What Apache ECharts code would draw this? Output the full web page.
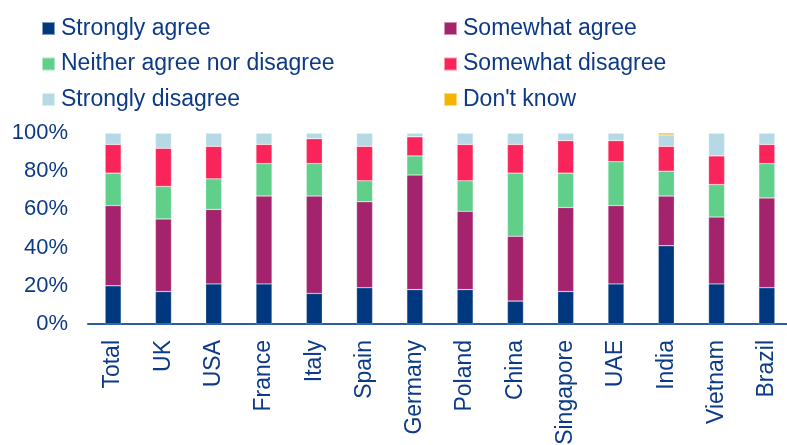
<!DOCTYPE html>
<html><head><meta charset="utf-8">
<script src="https://cdn.jsdelivr.net/npm/echarts@6/dist/echarts.min.js"></script>
<style>html,body{margin:0;padding:0;background:#fff}#c{width:787px;height:445px}</style>
</head><body><div id="c"></div>
<script>
const categories = ['Total','UK','USA','France','Italy','Spain','Germany','Poland','China','Singapore','UAE','India','Vietnam','Brazil'];
const stronglyAgree    = [20,17,21,21,16,19,18,18,12,17,21,41,21,19];
const somewhatAgree    = [42,38,39,46,51,45,60,41,34,44,41,26,35,47];
const neither          = [17,17,16,17,17,11,10,16,33,18,23,13,17,18];
const somewhatDisagree = [15,20,17,10,13,18,10,19,15,17,11,13,15,10];
const stronglyDisagree = [6,8,7,6,3,7,2,6,6,4,4,6,12,6];
const dontKnow         = [0,0,0,0,0,0,0,0,0,0,0,1,0,0];
const yTicks = [0,20,40,60,80,100];

const seriesDefs = [
  ['Strongly agree', stronglyAgree, '#00387f'],
  ['Somewhat agree', somewhatAgree, '#a3246c'],
  ['Neither agree nor disagree', neither, '#5fcf8a'],
  ['Somewhat disagree', somewhatDisagree, '#f9245a'],
  ['Strongly disagree', stronglyDisagree, '#b5dae6'],
  ["Don't know", dontKnow, '#f5b400']
];
const txt = '#0d3a86';
const font = '"Liberation Sans",Arial,sans-serif';
const legendText = {color: txt, fontSize: 23, fontFamily: font, padding: [0,0,0,1]};
const chart = echarts.init(document.getElementById('c'));
chart.setOption({
  animation: false,
  legend: [
    {data: ['Strongly agree','Neither agree nor disagree','Strongly disagree'], orient: 'vertical', left: 41, top: 17, padding: 0, itemGap: 12.5, itemWidth: 13, itemHeight: 13, textStyle: legendText, icon: 'rect'},
    {data: ['Somewhat agree','Somewhat disagree',"Don't know"], orient: 'vertical', left: 443, top: 17, padding: 0, itemGap: 12.5, itemWidth: 13, itemHeight: 13, textStyle: legendText, icon: 'rect'}
  ],
  grid: {left: 88, width: 704, top: 133, height: 191, containLabel: false, outerBoundsMode: 'none'},
  xAxis: {
    type: 'category', data: categories,
    axisLine: {lineStyle: {color: '#2e5c9e', width: 2}},
    axisTick: {show: false},
    axisLabel: {rotate: 90, color: txt, fontSize: 23, fontFamily: font, margin: 16, interval: 0}
  },
  yAxis: {
    type: 'value', min: 0, max: 100, interval: 20,
    axisLine: {show: false}, axisTick: {show: false}, splitLine: {show: false},
    axisLabel: {color: txt, fontSize: 22, fontFamily: font, margin: 20,
      formatter: v => yTicks.includes(v) ? v + '%' : ''}
  },
  series: seriesDefs.map(([name, data, color]) => ({
    name, type: 'bar', stack: 'a', data, barWidth: 16,
    itemStyle: {color, borderColor: 'rgba(255,255,255,0.5)', borderWidth: 0.5}
  }))
});
</script></body></html>
